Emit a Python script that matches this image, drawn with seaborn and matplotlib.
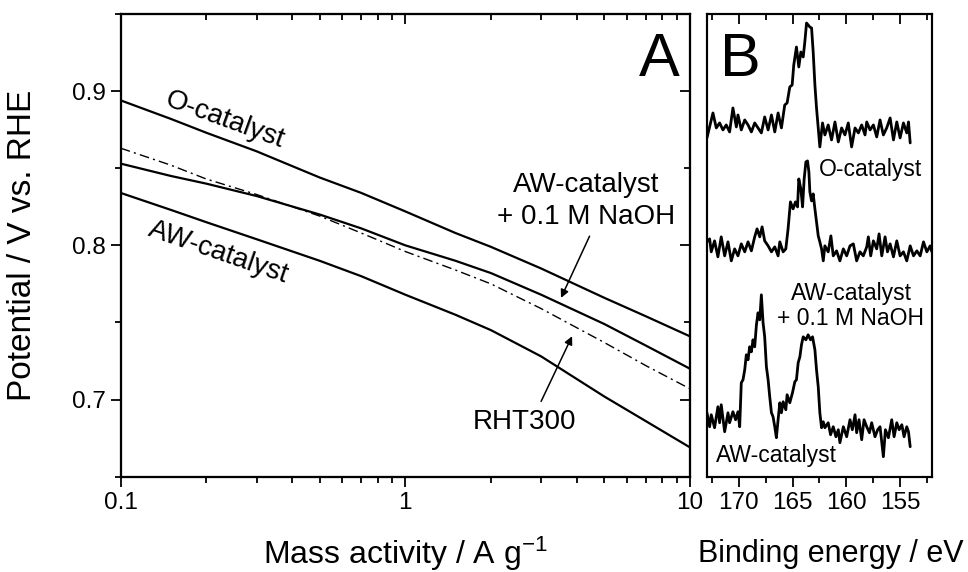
import matplotlib
matplotlib.use("Agg")
import matplotlib.pyplot as plt
import numpy as np
import pandas as pd
import seaborn as sns
from matplotlib.ticker import MultipleLocator, FixedLocator, NullFormatter, NullLocator

# ---- panel A: polarisation curves (mass activity in A/g, potential in V vs RHE)
mass_activity = [0.1, 0.15, 0.2, 0.3, 0.5, 0.7, 1.0, 1.5, 2.0, 3.0, 5.0, 7.0, 10.0]
pot_o_cat = [0.894, 0.882, 0.873, 0.861, 0.844, 0.834, 0.822, 0.808, 0.799, 0.785, 0.766, 0.754, 0.741]
pot_aw_naoh = [0.853, 0.845, 0.840, 0.832, 0.820, 0.811, 0.800, 0.790, 0.782, 0.768, 0.749, 0.735, 0.720]
pot_rht300 = [0.863, 0.852, 0.843, 0.833, 0.819, 0.808, 0.796, 0.784, 0.775, 0.759, 0.737, 0.722, 0.707]
pot_aw_cat = [0.834, 0.823, 0.815, 0.804, 0.790, 0.780, 0.768, 0.755, 0.745, 0.728, 0.702, 0.686, 0.669]

# ---- panel B: S 2p XPS spectra (binding energy in eV, intensity in a.u. above baseline)
be_o_cat = [172.98, 172.42, 172.11, 171.80, 171.49, 171.18, 170.87, 170.56, 170.24, 170.09,
            169.78, 169.46, 169.15, 168.84, 168.53, 168.22, 167.91, 167.60, 167.28, 166.97,
            166.66, 166.35, 166.04, 165.73, 165.51, 165.26, 165.04, 164.89, 164.64, 164.42,
            164.23, 164.01, 163.86, 163.70, 163.39, 163.23, 163.08, 162.92, 162.77, 162.61,
            162.46, 162.21, 161.99, 161.68, 161.37, 161.05, 160.74, 160.43, 160.12, 159.81,
            159.50, 159.18, 158.87, 158.56, 158.25, 158.09, 157.78, 157.47, 157.16, 156.85,
            156.54, 156.23, 155.91, 155.60, 155.29, 154.98, 154.67, 154.36, 154.20, 154.04]
int_o_cat = [-8, 17, 2, 7, 0, 5, -2, 22, 3, 15,
             0, 10, 5, -2, 7, 2, -3, 13, 0, 15,
             -2, 17, 2, 25, 27, 43, 45, 65, 83, 63,
             78, 73, 88, 107, 103, 102, 78, 45, 22, 2,
             -17, 7, -5, 5, -10, 8, -12, 2, -5, 7,
             -17, 2, -3, 5, -5, 8, 0, 5, -7, 10,
             -5, 2, 12, -10, 8, -8, 7, -3, 8, -13]

be_aw_naoh = [172.98, 172.73, 172.58, 172.27, 171.96, 171.65, 171.33, 171.02, 170.71, 170.40,
              170.09, 169.78, 169.46, 169.15, 168.84, 168.53, 168.31, 168.06, 167.84, 167.60,
              167.28, 166.97, 166.66, 166.35, 166.19, 165.88, 165.63, 165.42, 165.20, 164.95,
              164.73, 164.54, 164.42, 164.23, 164.07, 163.92, 163.76, 163.61, 163.48, 163.39,
              163.23, 163.08, 162.92, 162.77, 162.61, 162.46, 162.30, 162.14, 161.99, 161.68,
              161.43, 161.21, 160.90, 160.59, 160.27, 159.96, 159.65, 159.34, 159.03, 158.72,
              158.41, 158.09, 157.94, 157.72, 157.47, 157.16, 156.94, 156.69, 156.38, 156.16,
              155.91, 155.60, 155.29, 154.98, 154.67, 154.36, 154.04, 153.73, 153.42, 153.11,
              152.80, 152.49, 152.18, 152.02]
int_aw_naoh = [7, 10, -3, 8, -8, 12, -7, 7, -12, 0,
               -7, 5, -3, 7, -2, 12, 20, 12, 22, 8,
               3, -3, 2, -7, 7, -3, 0, 20, 47, 40,
               47, 42, 70, 60, 42, 70, 87, 88, 77, 57,
               48, 55, 40, 27, 13, 7, 0, -12, 3, -3,
               13, -7, -2, -12, 0, -7, 3, 5, -12, -3,
               -7, 2, 12, -7, 8, 0, 15, -7, 12, -3,
               5, -8, 8, -7, -3, -12, 3, -7, -2, -7,
               7, -3, 3, -3]

be_aw_cat = [172.98, 172.73, 172.58, 172.27, 171.96, 171.80, 171.65, 171.33, 171.02, 170.87,
             170.56, 170.31, 170.09, 169.93, 169.78, 169.62, 169.46, 169.31, 169.15, 169.00,
             168.84, 168.69, 168.53, 168.37, 168.22, 168.06, 167.91, 167.75, 167.60, 167.44,
             167.28, 167.13, 166.97, 166.82, 166.66, 166.51, 166.35, 166.19, 166.04, 165.88,
             165.63, 165.51, 165.26, 165.01, 164.79, 164.64, 164.48, 164.32, 164.17, 164.01,
             163.76, 163.55, 163.33, 163.14, 162.92, 162.77, 162.61, 162.46, 162.30, 162.14,
             161.99, 161.68, 161.46, 161.21, 160.96, 160.74, 160.59, 160.27, 159.96, 159.65,
             159.43, 159.18, 159.03, 158.81, 158.56, 158.34, 158.09, 157.84, 157.63, 157.32,
             157.07, 156.85, 156.54, 156.35, 156.07, 155.76, 155.54, 155.29, 155.07, 154.82,
             154.61, 154.36, 154.20, 154.04]
int_aw_cat = [7, -7, 5, -8, 13, -3, 15, -12, 7, -3,
              8, 0, 8, -7, 37, 40, 50, 65, 60, 73,
              68, 80, 73, 95, 107, 100, 125, 97, 83, 53,
              40, 23, 7, 3, -7, -18, 0, 17, 7, 18,
              10, 25, 17, 27, 38, 40, 57, 63, 75, 83,
              80, 85, 80, 83, 70, 50, 33, 7, -8, -2,
              -8, -3, -15, -7, -17, -10, -23, -7, -17, 0,
              -10, 5, -13, 0, -20, 0, -7, -13, -3, -17,
              -10, -7, -37, -10, -18, 0, -17, -3, -10, -5,
              -17, -7, -12, -27]

# vertical stacking of the spectra (same a.u.)
spec_offsets = [347, 228, 57]

sns.set_theme(style="ticks")
plt.rcParams["font.family"] = ["Liberation Sans", "DejaVu Sans"]
plt.rcParams["mathtext.default"] = "regular"
for key in ["text.color", "axes.labelcolor", "xtick.color", "ytick.color", "axes.edgecolor"]:
    plt.rcParams[key] = "black"
plt.rcParams["axes.linewidth"] = 1.5
for key in ["xtick.major.width", "ytick.major.width", "xtick.minor.width", "ytick.minor.width"]:
    plt.rcParams[key] = 1.3

TICK_FS = 17.5

fig = plt.figure(figsize=(9.68, 5.72), dpi=100)
ax = fig.add_axes([0.1247, 0.1666, 0.5881, 0.8089])
axb = fig.add_axes([0.7301, 0.1666, 0.2328, 0.8089])

# ---------------- panel A
curves = [
    (pot_o_cat, "-", 1.6),
    (pot_aw_naoh, "-", 1.6),
    (pot_rht300, (0, (7, 3, 1.5, 3)), 1.0),
    (pot_aw_cat, "-", 1.6),
]
for pot, ls, lw in curves:
    df = pd.DataFrame({"j": mass_activity, "E": pot})
    sns.lineplot(data=df, x="j", y="E", ax=ax, color="black", lw=lw,
                 linestyle=ls, estimator=None, sort=False)

ax.set_xscale("log")
ax.set_xlim(0.1, 10)
ax.set_ylim(0.65, 0.95)
ax.set_xticks([0.1, 1, 10])
ax.set_xticklabels(["0.1", "1", "10"])
ax.xaxis.set_minor_formatter(NullFormatter())
ax.yaxis.set_major_locator(FixedLocator([0.7, 0.8, 0.9]))
ax.yaxis.set_minor_locator(MultipleLocator(0.05))
ax.set_yticklabels(["0.7", "0.8", "0.9"])
ax.tick_params(which="major", direction="out", length=7, labelsize=TICK_FS, pad=4)
ax.tick_params(which="minor", direction="out", length=4)
ax.set_xlabel("Mass activity / A g$^{-1}$", fontsize=23)
ax.set_ylabel("Potential / V vs. RHE", fontsize=24)
ax.xaxis.set_label_coords(0.5, -0.125)
ax.yaxis.set_label_coords(-0.145, 0.5)

# mirror ticks pointing inward on top and right
axt = ax.twiny()
axt.set_xscale("log")
axt.set_xlim(ax.get_xlim())
axt.tick_params(axis="x", which="major", direction="in", length=7, labeltop=False)
axt.tick_params(axis="x", which="minor", direction="in", length=4)
axr = ax.twinx()
axr.set_ylim(ax.get_ylim())
axr.yaxis.set_major_locator(FixedLocator([0.7, 0.8, 0.9]))
axr.yaxis.set_minor_locator(MultipleLocator(0.05))
axr.tick_params(axis="y", which="major", direction="in", length=7, labelright=False)
axr.tick_params(axis="y", which="minor", direction="in", length=4)

ax.text(0.982, 0.962, "A", transform=ax.transAxes, fontsize=44, ha="right", va="top")
ax.text(0.231, 0.881, "O-catalyst", fontsize=20, rotation=-20,
        rotation_mode="anchor", ha="center", va="center")
ax.text(0.220, 0.7955, "AW-catalyst", fontsize=20, rotation=-19,
        rotation_mode="anchor", ha="center", va="center")
ax.text(4.33, 0.829, "AW-catalyst\n+ 0.1 M NaOH", fontsize=20, ha="center",
        va="center", linespacing=1.3)
ax.annotate("", xy=(3.49, 0.7643), xytext=(4.48, 0.8076),
            arrowprops=dict(arrowstyle="-|>", color="black", lw=1.1, mutation_scale=12))
ax.text(2.63, 0.6857, "RHT300", fontsize=20, ha="center", va="center")
ax.annotate("", xy=(3.89, 0.7427), xytext=(2.97, 0.6972),
            arrowprops=dict(arrowstyle="-|>", color="black", lw=1.1, mutation_scale=12))

# ---------------- panel B
spectra = [
    (be_o_cat, int_o_cat, spec_offsets[0]),
    (be_aw_naoh, int_aw_naoh, spec_offsets[1]),
    (be_aw_cat, int_aw_cat, spec_offsets[2]),
]
for be, inten, off in spectra:
    df = pd.DataFrame({"BE": be, "I": np.asarray(inten) + off})
    sns.lineplot(data=df, x="BE", y="I", ax=axb, color="black", lw=2.0,
                 estimator=None, sort=False)

axb.set_xlim(173, 152)
axb.set_ylim(0, 463)
axb.xaxis.set_major_locator(FixedLocator([170, 165, 160, 155]))
axb.xaxis.set_minor_locator(FixedLocator([172.5, 167.5, 162.5, 157.5, 152.5]))
axb.yaxis.set_major_locator(NullLocator())
axb.tick_params(axis="x", which="major", direction="out", length=7, labelsize=TICK_FS, pad=4)
axb.tick_params(axis="x", which="minor", direction="out", length=4)
axb.set_xlabel("Binding energy / eV", fontsize=22)
axb.set_ylabel("")
axb.xaxis.set_label_coords(0.55, -0.135)
axbt = axb.twiny()
axbt.set_xlim(axb.get_xlim())
axbt.xaxis.set_major_locator(FixedLocator([170, 165, 160, 155]))
axbt.xaxis.set_minor_locator(FixedLocator([172.5, 167.5, 162.5, 157.5, 152.5]))
axbt.tick_params(axis="x", which="major", direction="in", length=7, labeltop=False)
axbt.tick_params(axis="x", which="minor", direction="in", length=4)

axb.text(0.059, 0.962, "B", transform=axb.transAxes, fontsize=44, ha="left", va="top")
axb.text(157.7, 307.7, "O-catalyst", fontsize=16.5, ha="center", va="center")
axb.text(159.56, 170.7, "AW-catalyst\n+ 0.1 M NaOH", fontsize=16.5, ha="center",
         va="center", linespacing=1.15)
axb.text(166.5, 21.7, "AW-catalyst", fontsize=16.5, ha="center", va="center")

fig.savefig("out.png", dpi=100, facecolor="white")
